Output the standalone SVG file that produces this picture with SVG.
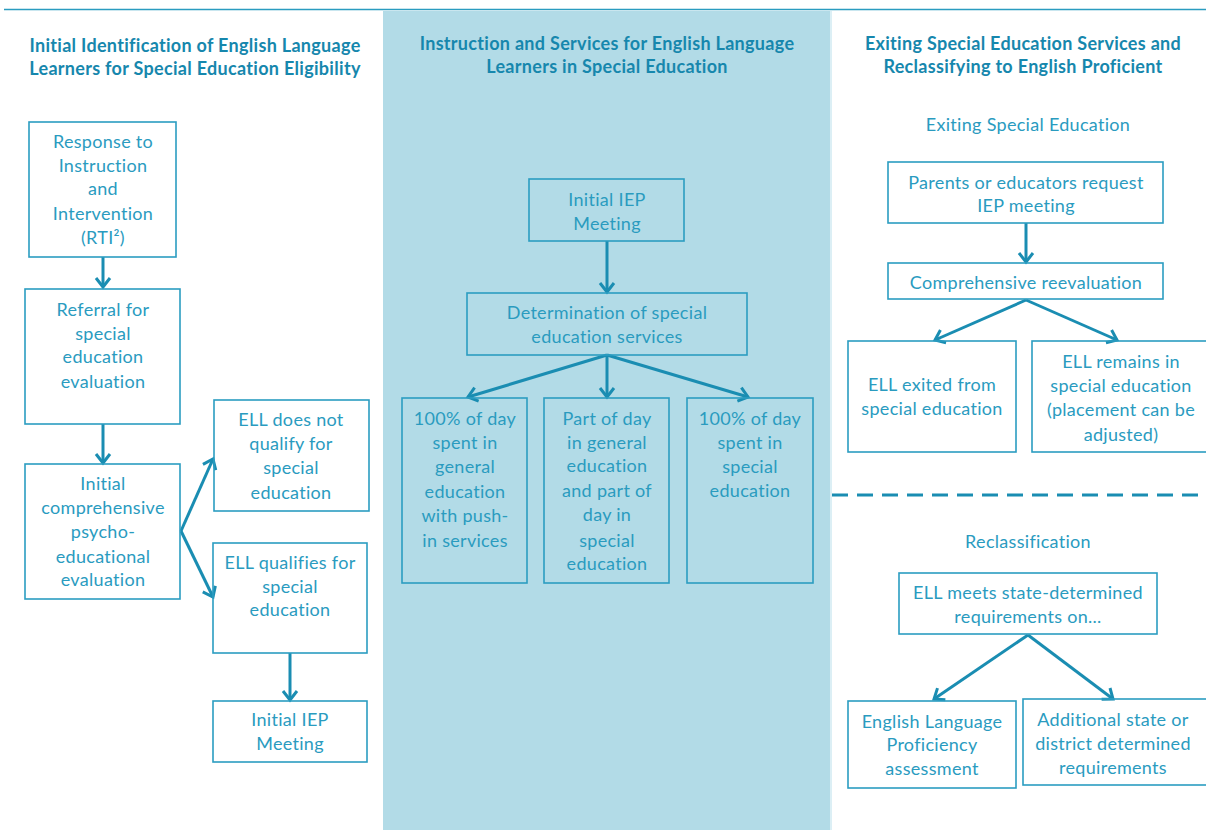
<svg xmlns="http://www.w3.org/2000/svg" width="1206" height="830" viewBox="0 0 1206 830">
<defs>
<marker id="chev" markerUnits="userSpaceOnUse" markerWidth="20" markerHeight="20" viewBox="-12 -10 14 20" refX="0" refY="0" orient="auto">
<path d="M-9,-7 L0,0 L-9,7" fill="none" stroke="#1a8db2" stroke-width="3" stroke-linejoin="miter" stroke-linecap="butt"/>
</marker>
</defs>
<style>
.box{fill:none;stroke:#2b9dc1;stroke-width:1.6}
.t{font-family:Lato,"Open Sans","Liberation Sans",sans-serif;font-size:18px;letter-spacing:0.3px;fill:#2a9bbf;text-anchor:middle}
.h{font-family:Lato,"Open Sans","Liberation Sans",sans-serif;font-size:18px;letter-spacing:0.3px;font-weight:bold;fill:#1687ad;text-anchor:middle}
.c{fill:none;stroke:#1a8db2;stroke-width:3;marker-end:url(#chev)}
</style>
<rect x="0" y="0" width="1206" height="830" fill="#ffffff"/>
<rect x="383" y="11" width="447" height="819" fill="#b2dbe7"/>
<line x1="831" y1="11" x2="831" y2="830" stroke="#dceff5" stroke-width="2"/>
<line x1="4" y1="9.5" x2="1206" y2="9.5" stroke="#2a9cc0" stroke-width="1.6"/>
<line x1="832" y1="495" x2="1206" y2="495" stroke="#1a8db2" stroke-width="3" stroke-dasharray="16 9"/>

<g id="titles">
<text class="h" x="195" y="52">Initial Identification of English Language</text>
<text class="h" x="195" y="75">Learners for Special Education Eligibility</text>
<text class="h" x="607" y="50">Instruction and Services for English Language</text>
<text class="h" x="607" y="73">Learners in Special Education</text>
<text class="h" x="1023" y="50">Exiting Special Education Services and</text>
<text class="h" x="1023" y="73">Reclassifying to English Proficient</text>
<text class="t" x="1028" y="131">Exiting Special Education</text>
<text class="t" x="1028" y="548">Reclassification</text>
</g>

<g id="connectors">
<line class="c" x1="103" y1="257" x2="103" y2="287"/>
<line class="c" x1="103" y1="424" x2="103" y2="463"/>
<line class="c" x1="181" y1="531" x2="213" y2="459"/>
<line class="c" x1="181" y1="531" x2="213" y2="597"/>
<line class="c" x1="290" y1="653" x2="290" y2="700"/>
<line class="c" x1="607" y1="241" x2="607" y2="292"/>
<line class="c" x1="607" y1="355" x2="468" y2="397"/>
<line class="c" x1="607" y1="355" x2="607" y2="397"/>
<line class="c" x1="607" y1="355" x2="748" y2="397"/>
<line class="c" x1="1026" y1="223" x2="1026" y2="262"/>
<line class="c" x1="1026" y1="300" x2="935" y2="340"/>
<line class="c" x1="1026" y1="300" x2="1117" y2="340"/>
<line class="c" x1="1028" y1="635" x2="934" y2="699"/>
<line class="c" x1="1028" y1="635" x2="1113" y2="699"/>
</g>

<g id="rti">
<rect class="box" x="29" y="122" width="147" height="135"/>
<text class="t" x="103" y="148">Response to</text>
<text class="t" x="103" y="172">Instruction</text>
<text class="t" x="103" y="195">and</text>
<text class="t" x="103" y="220">Intervention</text>
<text class="t" x="103" y="244">(RTI²)</text>
</g>
<g id="referral">
<rect class="box" x="25" y="289" width="155" height="135"/>
<text class="t" x="103" y="316">Referral for</text>
<text class="t" x="103" y="340">special</text>
<text class="t" x="103" y="363">education</text>
<text class="t" x="103" y="388">evaluation</text>
</g>
<g id="initial-eval">
<rect class="box" x="25" y="464" width="155" height="135"/>
<text class="t" x="103" y="490">Initial</text>
<text class="t" x="103" y="514">comprehensive</text>
<text class="t" x="103" y="538">psycho-</text>
<text class="t" x="103" y="563">educational</text>
<text class="t" x="103" y="586">evaluation</text>
</g>
<g id="not-qualify">
<rect class="box" x="214" y="400" width="155" height="111"/>
<text class="t" x="291" y="426">ELL does not</text>
<text class="t" x="291" y="450">qualify for</text>
<text class="t" x="291" y="474">special</text>
<text class="t" x="291" y="499">education</text>
</g>
<g id="qualifies">
<rect class="box" x="213" y="543" width="154" height="110"/>
<text class="t" x="290" y="569">ELL qualifies for</text>
<text class="t" x="290" y="593">special</text>
<text class="t" x="290" y="616">education</text>
</g>
<g id="iep-left">
<rect class="box" x="213" y="701" width="154" height="61"/>
<text class="t" x="290" y="726">Initial IEP</text>
<text class="t" x="290" y="750">Meeting</text>
</g>

<g id="iep-mid">
<rect class="box" x="529" y="179" width="155" height="62"/>
<text class="t" x="607" y="206">Initial IEP</text>
<text class="t" x="607" y="230">Meeting</text>
</g>
<g id="determination">
<rect class="box" x="467" y="293" width="280" height="62"/>
<text class="t" x="607" y="319">Determination of special</text>
<text class="t" x="607" y="343">education services</text>
</g>
<g id="full-general">
<rect class="box" x="402" y="398" width="125" height="185"/>
<text class="t" x="465" y="425">100% of day</text>
<text class="t" x="465" y="449">spent in</text>
<text class="t" x="465" y="473">general</text>
<text class="t" x="465" y="498">education</text>
<text class="t" x="465" y="522">with push-</text>
<text class="t" x="465" y="547">in services</text>
</g>
<g id="part-day">
<rect class="box" x="544" y="398" width="125" height="185"/>
<text class="t" x="607" y="425">Part of day</text>
<text class="t" x="607" y="449">in general</text>
<text class="t" x="607" y="472">education</text>
<text class="t" x="607" y="497">and part of</text>
<text class="t" x="607" y="521">day in</text>
<text class="t" x="607" y="547">special</text>
<text class="t" x="607" y="570">education</text>
</g>
<g id="full-special">
<rect class="box" x="687" y="398" width="126" height="185"/>
<text class="t" x="750" y="425">100% of day</text>
<text class="t" x="750" y="449">spent in</text>
<text class="t" x="750" y="473">special</text>
<text class="t" x="750" y="497">education</text>
</g>

<g id="request">
<rect class="box" x="888" y="162" width="275" height="61"/>
<text class="t" x="1026" y="189">Parents or educators request</text>
<text class="t" x="1026" y="212">IEP meeting</text>
</g>
<g id="reevaluation">
<rect class="box" x="888" y="263" width="275" height="36"/>
<text class="t" x="1026" y="289">Comprehensive reevaluation</text>
</g>
<g id="exited">
<rect class="box" x="848" y="341" width="168" height="111"/>
<text class="t" x="932" y="391">ELL exited from</text>
<text class="t" x="932" y="415">special education</text>
</g>
<g id="remains">
<rect class="box" x="1032" y="341" width="176" height="111"/>
<text class="t" x="1121" y="368">ELL remains in</text>
<text class="t" x="1121" y="392">special education</text>
<text class="t" x="1121" y="416">(placement can be</text>
<text class="t" x="1121" y="441">adjusted)</text>
</g>
<g id="meets">
<rect class="box" x="899" y="573" width="258" height="61"/>
<text class="t" x="1028" y="599">ELL meets state-determined</text>
<text class="t" x="1028" y="623">requirements on...</text>
</g>
<g id="elp">
<rect class="box" x="848" y="701" width="168" height="87"/>
<text class="t" x="932" y="728">English Language</text>
<text class="t" x="932" y="751">Proficiency</text>
<text class="t" x="932" y="775">assessment</text>
</g>
<g id="additional">
<rect class="box" x="1023" y="699" width="185" height="86"/>
<text class="t" x="1113" y="726">Additional state or</text>
<text class="t" x="1113" y="750">district determined</text>
<text class="t" x="1113" y="774">requirements</text>
</g>
</svg>
